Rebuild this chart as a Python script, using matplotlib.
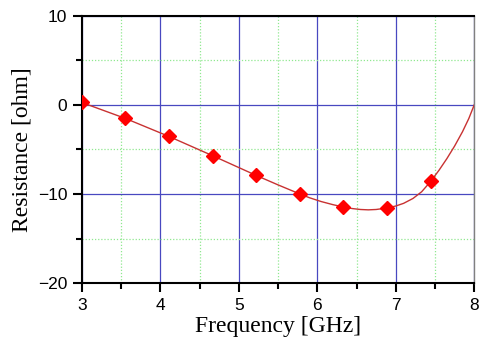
import matplotlib
matplotlib.use("Agg")
import matplotlib.pyplot as plt
from matplotlib.ticker import MultipleLocator

# measured points (markers)
freq = [3.0, 3.556, 4.111, 4.667, 5.222, 5.778, 6.333, 6.889, 7.444]
res = [0.26, -1.53, -3.55, -5.71, -7.92, -10.0, -11.46, -11.57, -8.55]

# fitted curve
curve_f = [3.0, 3.556, 4.111, 4.667, 5.222, 5.5, 5.778, 5.9, 6.05, 6.2, 6.333,
           6.45, 6.55, 6.65, 6.75, 6.889, 7.0, 7.1, 7.22, 7.33, 7.444,
           7.55, 7.65, 7.75, 7.85, 7.93, 8.0]
curve_r = [0.26, -1.53, -3.55, -5.71, -7.92, -8.98, -10.0, -10.42, -10.85, -11.2, -11.46,
           -11.64, -11.74, -11.78, -11.74, -11.57, -11.35, -11.05, -10.5, -9.75, -8.6,
           -7.35, -6.05, -4.62, -3.02, -1.55, 0.0]

fig = plt.figure(figsize=(4.81, 3.47), dpi=100)
ax = fig.add_axes([0.170, 0.184, 0.816, 0.771])

ax.plot(curve_f, curve_r, '-', color='#c83232', lw=1.0, zorder=3)
ax.plot(freq, res, 'D', color='red', ms=7, mec='red', zorder=4)

ax.set_xlim(3, 8)
ax.set_ylim(-20, 10)
ax.xaxis.set_major_locator(MultipleLocator(1))
ax.xaxis.set_minor_locator(MultipleLocator(0.5))
ax.yaxis.set_major_locator(MultipleLocator(10))
ax.yaxis.set_minor_locator(MultipleLocator(5))

ax.grid(True, which='major', color='#4848c0', lw=0.9, ls='-')
ax.grid(True, which='minor', color='#90e890', lw=0.9, ls=(0, (1, 1.5)))
ax.set_axisbelow(True)

for s in ['left', 'bottom', 'top']:
    ax.spines[s].set_linewidth(1.5)
    ax.spines[s].set_color('black')
ax.spines['right'].set_linewidth(1.0)
ax.spines['right'].set_color('#808080')

ax.tick_params(which='major', direction='out', length=6.5, width=1.5,
               labelsize=12.5, pad=4, top=False, right=False)
ax.tick_params(which='minor', direction='out', length=4, width=1.5,
               top=False, right=False)
for lab in ax.get_xticklabels() + ax.get_yticklabels():
    lab.set_family('Liberation Sans')

ax.set_xlabel('Frequency [GHz]', family='Liberation Serif', fontsize=17, labelpad=2)
ax.set_ylabel('Resistance [ohm]', family='Liberation Serif', fontsize=17, labelpad=4)

fig.savefig('out.png', dpi=100)
